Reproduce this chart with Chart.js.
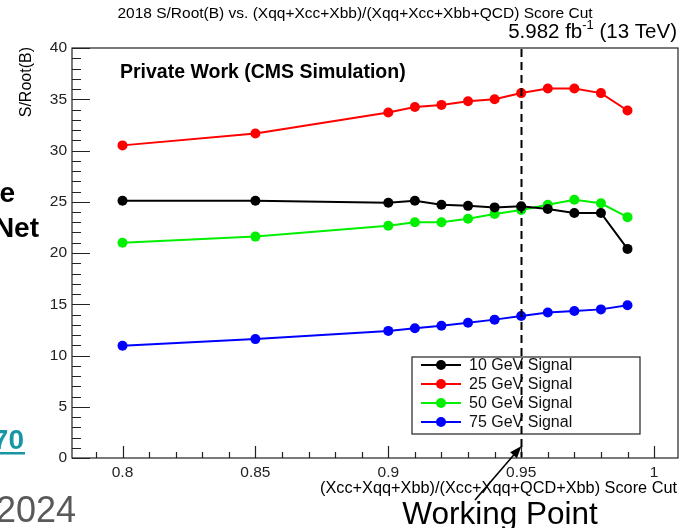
<!DOCTYPE html>
<html>
<head>
<meta charset="utf-8">
<script src="https://cdn.jsdelivr.net/npm/chart.js@4"></script>
<style>
  html, body { margin: 0; padding: 0; background: #fff; }
  #plot { display: block; }
</style>
</head>
<body>
<canvas id="plot" width="685" height="528"></canvas>
<script>
// score cut values and S/sqrt(B) per signal mass
const cuts = [0.8, 0.85, 0.9, 0.91, 0.92, 0.93, 0.94, 0.95, 0.96, 0.97, 0.98, 0.99];
const sig10 = [25.1, 25.1, 24.9, 25.1, 24.7, 24.6, 24.45, 24.55, 24.3, 23.9, 23.9, 20.4];
const sig25 = [30.5, 31.65, 33.7, 34.25, 34.45, 34.8, 35.0, 35.6, 36.05, 36.05, 35.6, 33.9];
const sig50 = [21.0, 21.6, 22.65, 23.0, 23.0, 23.35, 23.8, 24.2, 24.7, 25.2, 24.85, 23.5];
const sig75 = [10.95, 11.6, 12.4, 12.65, 12.9, 13.2, 13.5, 13.85, 14.2, 14.35, 14.5, 14.9];

const seriesLabels = ["10 GeV Signal", "25 GeV Signal", "50 GeV Signal", "75 GeV Signal"];
const seriesColors = ["#000000", "#ff0000", "#00f000", "#0000ff"];
const xTicks = [0.8, 0.85, 0.9, 0.95, 1.0];
const workingPoint = 0.95;

const FONT = "'Liberation Sans', Arial, Helvetica, sans-serif";

function makeDataset(values, i) {
  return {
    label: seriesLabels[i],
    data: cuts.map((c, k) => ({ x: c, y: values[k] })),
    borderColor: seriesColors[i],
    backgroundColor: seriesColors[i],
    pointBackgroundColor: seriesColors[i],
    pointBorderWidth: 0,
    pointRadius: 5,
    borderWidth: 2,
    tension: 0,
  };
}

const rootStyle = {
  id: "rootStyle",
  beforeDraw(chart) {
    const ctx = chart.ctx;
    ctx.save();
    ctx.fillStyle = "#fff";
    ctx.fillRect(0, 0, chart.width, chart.height);
    ctx.restore();
  },
  afterDatasetsDraw(chart) {
    const ctx = chart.ctx;
    const a = chart.chartArea;
    const xs = chart.scales.x;
    const ys = chart.scales.y;
    ctx.save();

    // frame
    ctx.strokeStyle = "#222";
    ctx.lineWidth = 1.2;
    ctx.strokeRect(a.left, a.top, a.right - a.left, a.bottom - a.top);

    // ticks inside the frame
    ctx.beginPath();
    for (let v = 0; v <= 40; v++) {
      const y = Math.round(ys.getPixelForValue(v)) + 0.5;
      const len = v % 5 === 0 ? 18 : 9;
      ctx.moveTo(a.left, y);
      ctx.lineTo(a.left + len, y);
    }
    for (let k = 79; k <= 100; k++) {
      const x = Math.round(xs.getPixelForValue(k / 100)) + 0.5;
      const len = k % 5 === 0 ? 12 : 6;
      ctx.moveTo(x, a.bottom);
      ctx.lineTo(x, a.bottom - len);
    }
    ctx.stroke();

    // legend
    const lx = 412, ly = 357, lw = 228, lh = 77;
    ctx.fillStyle = "#fff";
    ctx.fillRect(lx, ly, lw, lh);
    ctx.strokeStyle = "#222";
    ctx.lineWidth = 1.2;
    ctx.strokeRect(lx, ly, lw, lh);
    ctx.font = "16px " + FONT;
    ctx.textBaseline = "middle";
    ctx.textAlign = "left";
    chart.data.datasets.forEach((ds, i) => {
      const y = ly + 8 + i * 19;
      ctx.strokeStyle = ds.borderColor;
      ctx.lineWidth = 2;
      ctx.beginPath();
      ctx.moveTo(lx + 9, y);
      ctx.lineTo(lx + 49, y);
      ctx.stroke();
      ctx.fillStyle = ds.borderColor;
      ctx.beginPath();
      ctx.arc(lx + 29, y, 5, 0, Math.PI * 2);
      ctx.fill();
      ctx.fillStyle = "#111";
      ctx.fillText(ds.label, lx + 57, y + 1);
    });

    // working point dashed line
    const wx = Math.round(xs.getPixelForValue(workingPoint)) + 0.5;
    ctx.strokeStyle = "#000";
    ctx.lineWidth = 2;
    ctx.setLineDash([8, 5]);
    ctx.beginPath();
    ctx.moveTo(wx, a.top + 1);
    ctx.lineTo(wx, a.bottom - 1);
    ctx.stroke();
    ctx.setLineDash([]);

    // arrow
    const tx = 475, ty = 500, hx = wx, hy = 446;
    const ang = Math.atan2(hy - ty, hx - tx);
    ctx.lineWidth = 1.6;
    ctx.beginPath();
    ctx.moveTo(tx, ty);
    ctx.lineTo(hx - 8 * Math.cos(ang), hy - 8 * Math.sin(ang));
    ctx.stroke();
    ctx.fillStyle = "#000";
    ctx.beginPath();
    ctx.moveTo(hx, hy);
    ctx.lineTo(hx - 13 * Math.cos(ang - 0.35), hy - 13 * Math.sin(ang - 0.35));
    ctx.lineTo(hx - 13 * Math.cos(ang + 0.35), hy - 13 * Math.sin(ang + 0.35));
    ctx.closePath();
    ctx.fill();

    // texts
    ctx.fillStyle = "#000";
    ctx.textBaseline = "alphabetic";
    ctx.font = "bold 19.5px " + FONT;
    ctx.fillText("Private Work (CMS Simulation)", 120, 78);

    ctx.textAlign = "center";
    ctx.font = "15.5px " + FONT;
    ctx.fillText("2018 S/Root(B) vs. (Xqq+Xcc+Xbb)/(Xqq+Xcc+Xbb+QCD) Score Cut", 355, 18);

    // lumi label with superscript
    ctx.textAlign = "left";
    const big = "20.5px " + FONT, small = "13px " + FONT;
    ctx.font = big;
    const p1 = "5.982 fb", p3 = " (13 TeV)";
    const w1 = ctx.measureText(p1).width, w3 = ctx.measureText(p3).width;
    ctx.font = small;
    const w2 = ctx.measureText("-1").width;
    let sx = 677 - (w1 + w2 + w3);
    ctx.font = big;
    ctx.fillText(p1, sx, 38);
    ctx.font = small;
    ctx.fillText("-1", sx + w1, 29);
    ctx.font = big;
    ctx.fillText(p3, sx + w1 + w2, 38);

    // axis titles
    ctx.font = "16.3px " + FONT;
    ctx.textAlign = "right";
    ctx.fillText("(Xcc+Xqq+Xbb)/(Xcc+Xqq+QCD+Xbb) Score Cut", 677, 493);

    ctx.save();
    ctx.translate(31, 47);
    ctx.rotate(-Math.PI / 2);
    ctx.font = "16px " + FONT;
    ctx.textAlign = "right";
    ctx.fillText("S/Root(B)", 0, 0);
    ctx.restore();

    ctx.font = "31.5px " + FONT;
    ctx.textAlign = "center";
    ctx.fillText("Working Point", 500, 524);

    // fragments of the surrounding slide
    ctx.textAlign = "right";
    ctx.font = "bold 28px " + FONT;
    ctx.fillText("e", 15, 202);
    ctx.fillText("Net", 39, 237);
    ctx.fillStyle = "#1797a6";
    ctx.fillText("70", 24, 449);
    ctx.fillRect(0, 452, 25, 2.5);
    ctx.fillStyle = "#595959";
    ctx.font = "36px " + FONT;
    ctx.fillText("2024", 76, 522);

    ctx.restore();
  },
};

new Chart(document.getElementById("plot"), {
  type: "line",
  data: {
    datasets: [sig10, sig25, sig50, sig75].map(makeDataset),
  },
  options: {
    responsive: false,
    animation: false,
    layout: { padding: { left: 22, right: 7, top: 48, bottom: 40 } },
    plugins: {
      legend: { display: false },
      title: { display: false },
      tooltip: { enabled: false },
    },
    scales: {
      x: {
        type: "linear",
        min: 0.781,
        max: 1.009,
        grid: { display: false, drawTicks: false },
        border: { display: false },
        afterBuildTicks: (scale) => {
          scale.ticks = xTicks.map((v) => ({ value: v }));
        },
        afterFit: (scale) => {
          scale.height = 30;
        },
        ticks: {
          padding: 5,
          maxRotation: 0,
          color: "#222",
          font: { family: FONT, size: 15.5 },
          callback: (v) => String(Math.round(v * 100) / 100),
        },
      },
      y: {
        min: 0,
        max: 40,
        grid: { display: false, drawTicks: false },
        border: { display: false },
        afterFit: (scale) => {
          scale.width = 50;
        },
        ticks: {
          stepSize: 5,
          padding: 5,
          color: "#222",
          font: { family: FONT, size: 15.5 },
        },
      },
    },
  },
  plugins: [rootStyle],
});
</script>
</body>
</html>
